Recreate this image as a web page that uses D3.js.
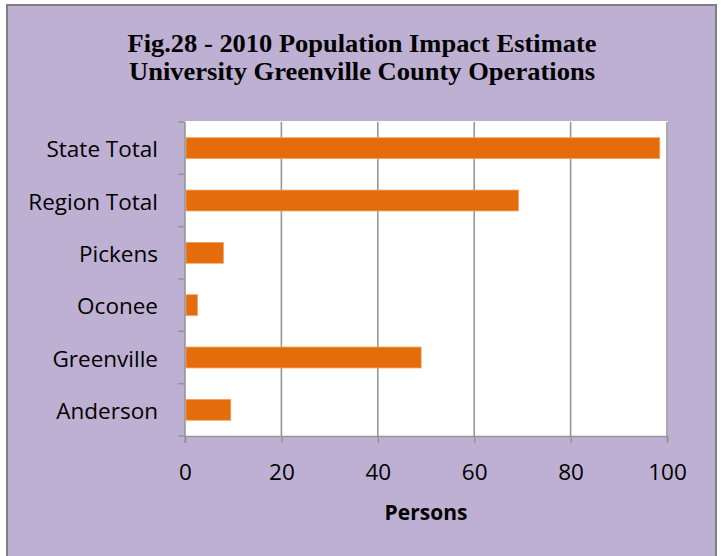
<!DOCTYPE html>
<html>
<head>
<meta charset="utf-8">
<script src="https://cdn.jsdelivr.net/npm/d3@7"></script>
<style>
  html, body { margin: 0; padding: 0; background: #ffffff; }
  svg { display: block; }
</style>
</head>
<body>
<svg id="chart" width="721" height="556"></svg>
<script>
// Population impact by area (persons)
const categories = ["State Total", "Region Total", "Pickens", "Oconee", "Greenville", "Anderson"];
const values = [98.5, 69.2, 8, 2.6, 49, 9.5];
const xTicks = [0, 20, 40, 60, 80, 100];
const titleLines = ["Fig.28 - 2010 Population Impact Estimate", "University Greenville County  Operations"];
const xAxisTitle = "Persons";

const svg = d3.select("#chart");
const sansFont = "'Open Sans', 'DejaVu Sans', sans-serif";

// chart frame
svg.append("rect")
  .attr("x", 7).attr("y", 5).attr("width", 709).attr("height", 560)
  .attr("fill", "#bdb0d2").attr("stroke", "#7f7f7f").attr("stroke-width", 2);

const plot = { left: 185, right: 667, top: 122, bottom: 436 };

// plot area
svg.append("rect")
  .attr("x", plot.left).attr("y", plot.top - 1)
  .attr("width", plot.right - plot.left + 1).attr("height", plot.bottom - plot.top + 2)
  .attr("fill", "#ffffff");

const x = d3.scaleLinear().domain([0, 100]).range([plot.left, plot.right]);
const y = d3.scaleBand().domain(categories).range([plot.top, plot.bottom])
  .paddingInner(0.6).paddingOuter(0.3);

// vertical gridlines
svg.append("g")
  .selectAll("line")
  .data(xTicks.filter(d => d > 0))
  .join("line")
  .attr("x1", d => x(d)).attr("x2", d => x(d))
  .attr("y1", plot.top).attr("y2", plot.bottom)
  .attr("stroke", "#969696").attr("stroke-width", 1.6);

// bars
svg.append("g")
  .selectAll("rect")
  .data(categories.map((c, i) => ({ c, v: values[i] })))
  .join("rect")
  .attr("x", x(0) + 1)
  .attr("y", d => y(d.c))
  .attr("width", d => x(d.v) - x(0) - 1)
  .attr("height", y.bandwidth())
  .attr("fill", "#e46c0a")
  .attr("stroke", "#f2a56a").attr("stroke-width", 0.8);

// x axis
const xAxis = svg.append("g")
  .attr("transform", `translate(0,${plot.bottom})`)
  .call(d3.axisBottom(x).tickValues(xTicks).tickSize(7).tickFormat(d3.format("d")));
xAxis.select(".domain").attr("stroke", "#969696").attr("stroke-width", 1.6);
xAxis.selectAll(".tick line").attr("stroke", "#969696").attr("stroke-width", 1.6);
xAxis.selectAll(".tick text")
  .attr("y", 44).attr("dy", null)
  .attr("fill", "#000").attr("font-family", sansFont)
  .attr("font-size", 22.5);

// y axis with ticks on band boundaries
svg.append("line")
  .attr("x1", plot.left).attr("x2", plot.left)
  .attr("y1", plot.top).attr("y2", plot.bottom + 7)
  .attr("stroke", "#969696").attr("stroke-width", 1.6);
const step = y.step();
const boundaries = d3.range(categories.length + 1).map(i => plot.top + i * step);
svg.append("g")
  .selectAll("line")
  .data(boundaries)
  .join("line")
  .attr("x1", plot.left - 7).attr("x2", plot.left)
  .attr("y1", d => d).attr("y2", d => d)
  .attr("stroke", "#969696").attr("stroke-width", 1.6);

// category labels
svg.append("g")
  .selectAll("text")
  .data(categories)
  .join("text")
  .attr("x", 158)
  .attr("y", d => y(d) + y.bandwidth() / 2 + 9)
  .attr("text-anchor", "end")
  .attr("font-family", sansFont)
  .attr("font-size", 22.5)
  .attr("fill", "#000")
  .text(d => d);

// axis title
svg.append("text")
  .attr("x", (plot.left + plot.right) / 2).attr("y", 520)
  .attr("text-anchor", "middle")
  .attr("font-family", sansFont)
  .attr("font-weight", "bold").attr("font-size", 21)
  .attr("fill", "#000")
  .text(xAxisTitle);

// chart title
svg.append("g")
  .selectAll("text")
  .data(titleLines)
  .join("text")
  .attr("x", 362).attr("y", (d, i) => 52 + i * 28)
  .attr("text-anchor", "middle")
  .attr("font-family", "'Liberation Serif', 'DejaVu Serif', serif")
  .attr("font-weight", "bold").attr("font-size", 26)
  .attr("fill", "#000")
  .attr("textLength", (d, i) => i === 0 ? 469 : 466)
  .attr("lengthAdjust", "spacingAndGlyphs")
  .text(d => d);
</script>
</body>
</html>
